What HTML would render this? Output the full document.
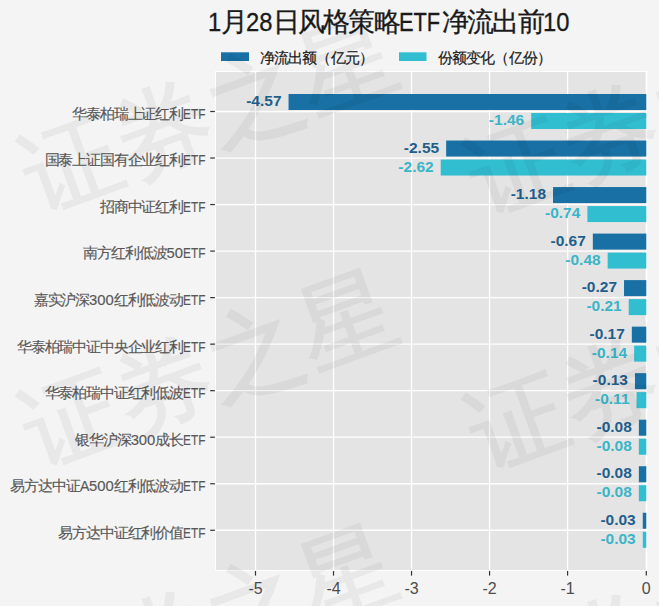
<!DOCTYPE html>
<html><head><meta charset="utf-8"><style>
html,body{margin:0;padding:0}
body{width:659px;height:606px;background:#f4f4f4;position:relative;overflow:hidden;font-family:"Liberation Sans",sans-serif}
div,svg{position:absolute;box-sizing:border-box}
svg{left:0;top:0}
.xl{width:60px;text-align:center;font-size:16px;color:#4d4d4d;line-height:20px}
.yl{left:0;width:205.4px;text-align:right;font-size:15px;-webkit-text-stroke:0.15px #585858;letter-spacing:-1.15px;color:#585858;line-height:20px;white-space:nowrap}
.lat{display:inline-block;letter-spacing:0;transform-origin:0 0;white-space:nowrap}
.dl{width:100px;text-align:right;font-size:15.5px;font-weight:bold;line-height:18px}
.title{left:208px;top:5px;font-size:27px;letter-spacing:-1.8px;color:#1a1a1a;-webkit-text-stroke:0.3px #1a1a1a;line-height:34px;white-space:nowrap}
.lt{top:49px;font-size:14.5px;letter-spacing:-0.9px;color:#1a1a1a;-webkit-text-stroke:0.2px #1a1a1a;line-height:18px;white-space:nowrap}
.wm{height:97px;font-size:97px;letter-spacing:0px;text-indent:0.0px;color:#000;-webkit-text-stroke:1.6px #000;opacity:0.045;transform:rotate(-20deg);white-space:nowrap;line-height:97px}
</style></head><body>
<svg width="659" height="606" viewBox="0 0 659 606"><rect x="215" y="71" width="432.29999999999995" height="500" fill="#fff"/><rect x="216" y="72" width="430.29999999999995" height="498" fill="#e4e4e4"/><line x1="255.50" y1="72" x2="255.50" y2="570" stroke="#fff" stroke-width="1.3"/><line x1="255.50" y1="571" x2="255.50" y2="575.6" stroke="#333" stroke-width="1.2"/><line x1="333.52" y1="72" x2="333.52" y2="570" stroke="#fff" stroke-width="1.3"/><line x1="333.52" y1="571" x2="333.52" y2="575.6" stroke="#333" stroke-width="1.2"/><line x1="411.54" y1="72" x2="411.54" y2="570" stroke="#fff" stroke-width="1.3"/><line x1="411.54" y1="571" x2="411.54" y2="575.6" stroke="#333" stroke-width="1.2"/><line x1="489.56" y1="72" x2="489.56" y2="570" stroke="#fff" stroke-width="1.3"/><line x1="489.56" y1="571" x2="489.56" y2="575.6" stroke="#333" stroke-width="1.2"/><line x1="567.58" y1="72" x2="567.58" y2="570" stroke="#fff" stroke-width="1.3"/><line x1="567.58" y1="571" x2="567.58" y2="575.6" stroke="#333" stroke-width="1.2"/><line x1="646.30" y1="72" x2="646.30" y2="570" stroke="#fff" stroke-width="1.3"/><line x1="646.30" y1="571" x2="646.30" y2="575.6" stroke="#333" stroke-width="1.2"/><line x1="216" y1="111.50" x2="646.3" y2="111.50" stroke="#fff" stroke-width="1.3"/><line x1="210.2" y1="111.50" x2="214.8" y2="111.50" stroke="#333" stroke-width="1.2"/><line x1="216" y1="158.03" x2="646.3" y2="158.03" stroke="#fff" stroke-width="1.3"/><line x1="210.2" y1="158.03" x2="214.8" y2="158.03" stroke="#333" stroke-width="1.2"/><line x1="216" y1="204.56" x2="646.3" y2="204.56" stroke="#fff" stroke-width="1.3"/><line x1="210.2" y1="204.56" x2="214.8" y2="204.56" stroke="#333" stroke-width="1.2"/><line x1="216" y1="251.09" x2="646.3" y2="251.09" stroke="#fff" stroke-width="1.3"/><line x1="210.2" y1="251.09" x2="214.8" y2="251.09" stroke="#333" stroke-width="1.2"/><line x1="216" y1="297.62" x2="646.3" y2="297.62" stroke="#fff" stroke-width="1.3"/><line x1="210.2" y1="297.62" x2="214.8" y2="297.62" stroke="#333" stroke-width="1.2"/><line x1="216" y1="344.15" x2="646.3" y2="344.15" stroke="#fff" stroke-width="1.3"/><line x1="210.2" y1="344.15" x2="214.8" y2="344.15" stroke="#333" stroke-width="1.2"/><line x1="216" y1="390.68" x2="646.3" y2="390.68" stroke="#fff" stroke-width="1.3"/><line x1="210.2" y1="390.68" x2="214.8" y2="390.68" stroke="#333" stroke-width="1.2"/><line x1="216" y1="437.21" x2="646.3" y2="437.21" stroke="#fff" stroke-width="1.3"/><line x1="210.2" y1="437.21" x2="214.8" y2="437.21" stroke="#333" stroke-width="1.2"/><line x1="216" y1="483.74" x2="646.3" y2="483.74" stroke="#fff" stroke-width="1.3"/><line x1="210.2" y1="483.74" x2="214.8" y2="483.74" stroke="#333" stroke-width="1.2"/><line x1="216" y1="530.27" x2="646.3" y2="530.27" stroke="#fff" stroke-width="1.3"/><line x1="210.2" y1="530.27" x2="214.8" y2="530.27" stroke="#333" stroke-width="1.2"/><rect x="288.55" y="94.00" width="357.75" height="16" fill="#1870a4"/><rect x="531.19" y="113.00" width="115.11" height="16" fill="#32bed1"/><rect x="446.15" y="140.53" width="200.15" height="16" fill="#1870a4"/><rect x="440.69" y="159.53" width="205.61" height="16" fill="#32bed1"/><rect x="553.04" y="187.06" width="93.26" height="16" fill="#1870a4"/><rect x="587.37" y="206.06" width="58.93" height="16" fill="#32bed1"/><rect x="592.83" y="233.59" width="53.47" height="16" fill="#1870a4"/><rect x="607.65" y="252.59" width="38.65" height="16" fill="#32bed1"/><rect x="624.03" y="280.12" width="22.27" height="16" fill="#1870a4"/><rect x="628.72" y="299.12" width="17.58" height="16" fill="#32bed1"/><rect x="631.84" y="326.65" width="14.46" height="16" fill="#1870a4"/><rect x="634.18" y="345.65" width="12.12" height="16" fill="#32bed1"/><rect x="634.96" y="373.18" width="11.34" height="16" fill="#1870a4"/><rect x="636.52" y="392.18" width="9.78" height="16" fill="#32bed1"/><rect x="638.86" y="419.71" width="7.44" height="16" fill="#1870a4"/><rect x="638.86" y="438.71" width="7.44" height="16" fill="#32bed1"/><rect x="638.86" y="466.24" width="7.44" height="16" fill="#1870a4"/><rect x="638.86" y="485.24" width="7.44" height="16" fill="#32bed1"/><rect x="642.76" y="512.77" width="3.54" height="16" fill="#1870a4"/><rect x="642.76" y="531.77" width="3.54" height="16" fill="#32bed1"/><rect x="221" y="52.3" width="28" height="8.7" fill="#1870a4"/><rect x="399" y="52.3" width="27.5" height="8.7" fill="#32bed1"/></svg>
<div class="xl" style="left:225.50px;top:579px">-5</div><div class="xl" style="left:303.52px;top:579px">-4</div><div class="xl" style="left:381.54px;top:579px">-3</div><div class="xl" style="left:459.56px;top:579px">-2</div><div class="xl" style="left:537.58px;top:579px">-1</div><div class="xl" style="left:616.30px;top:579px">0</div><div class="yl" style="top:103.90px">华泰柏瑞上证红利<span class="lat" style="font-size:14.8px;width:22.36px;transform:scaleX(0.8)">ETF</span></div><div class="yl" style="top:150.43px">国泰上证国有企业红利<span class="lat" style="font-size:14.8px;width:22.36px;transform:scaleX(0.8)">ETF</span></div><div class="yl" style="top:196.96px">招商中证红利<span class="lat" style="font-size:14.8px;width:22.36px;transform:scaleX(0.8)">ETF</span></div><div class="yl" style="top:243.49px">南方红利低波<span class="lat" style="font-size:14.8px;width:16.46px;transform:scaleX(1.0)">50</span><span class="lat" style="font-size:14.8px;width:22.36px;transform:scaleX(0.8)">ETF</span></div><div class="yl" style="top:290.02px">嘉实沪深<span class="lat" style="font-size:14.8px;width:24.69px;transform:scaleX(1.0)">300</span>红利低波动<span class="lat" style="font-size:14.8px;width:22.36px;transform:scaleX(0.8)">ETF</span></div><div class="yl" style="top:336.55px">华泰柏瑞中证中央企业红利<span class="lat" style="font-size:14.8px;width:22.36px;transform:scaleX(0.8)">ETF</span></div><div class="yl" style="top:383.08px">华泰柏瑞中证红利低波<span class="lat" style="font-size:14.8px;width:22.36px;transform:scaleX(0.8)">ETF</span></div><div class="yl" style="top:429.61px">银华沪深<span class="lat" style="font-size:14.8px;width:24.69px;transform:scaleX(1.0)">300</span>成长<span class="lat" style="font-size:14.8px;width:22.36px;transform:scaleX(0.8)">ETF</span></div><div class="yl" style="top:476.14px">易方达中证<span class="lat" style="font-size:14.8px;width:9.38px;transform:scaleX(0.95)">A</span><span class="lat" style="font-size:14.8px;width:24.69px;transform:scaleX(1.0)">500</span>红利低波动<span class="lat" style="font-size:14.8px;width:22.36px;transform:scaleX(0.8)">ETF</span></div><div class="yl" style="top:522.67px">易方达中证红利价值<span class="lat" style="font-size:14.8px;width:22.36px;transform:scaleX(0.8)">ETF</span></div><div class="dl" style="left:181.55px;top:92.00px;color:#1f5f8c">-4.57</div><div class="dl" style="left:424.19px;top:111.00px;color:#3ab5c8">-1.46</div><div class="dl" style="left:339.15px;top:138.53px;color:#1f5f8c">-2.55</div><div class="dl" style="left:333.69px;top:157.53px;color:#3ab5c8">-2.62</div><div class="dl" style="left:446.04px;top:185.06px;color:#1f5f8c">-1.18</div><div class="dl" style="left:480.37px;top:204.06px;color:#3ab5c8">-0.74</div><div class="dl" style="left:485.83px;top:231.59px;color:#1f5f8c">-0.67</div><div class="dl" style="left:500.65px;top:250.59px;color:#3ab5c8">-0.48</div><div class="dl" style="left:517.03px;top:278.12px;color:#1f5f8c">-0.27</div><div class="dl" style="left:521.72px;top:297.12px;color:#3ab5c8">-0.21</div><div class="dl" style="left:524.84px;top:324.65px;color:#1f5f8c">-0.17</div><div class="dl" style="left:527.18px;top:343.65px;color:#3ab5c8">-0.14</div><div class="dl" style="left:527.96px;top:371.18px;color:#1f5f8c">-0.13</div><div class="dl" style="left:529.52px;top:390.18px;color:#3ab5c8">-0.11</div><div class="dl" style="left:531.86px;top:417.71px;color:#1f5f8c">-0.08</div><div class="dl" style="left:531.86px;top:436.71px;color:#3ab5c8">-0.08</div><div class="dl" style="left:531.86px;top:464.24px;color:#1f5f8c">-0.08</div><div class="dl" style="left:531.86px;top:483.24px;color:#3ab5c8">-0.08</div><div class="dl" style="left:535.76px;top:510.77px;color:#1f5f8c">-0.03</div><div class="dl" style="left:535.76px;top:529.77px;color:#3ab5c8">-0.03</div>
<div class="title"><span class="lat" style="font-size:25px;width:13.21px;transform:scaleX(0.95)">1</span>月<span class="lat" style="font-size:25px;width:26.42px;transform:scaleX(0.95)">28</span>日风格策略<span class="lat" style="font-size:25px;width:43.08px;transform:scaleX(0.87)">ETF</span>净流出前<span class="lat" style="font-size:25px;width:26.42px;transform:scaleX(0.95)">10</span></div>
<div class="lt" style="left:260px">净流出额（亿元）</div>
<div class="lt" style="left:438px">份额变化（亿份）</div>
<div class="wm" style="left:15.0px;top:66.1px;width:388px">证券之星</div><div class="wm" style="left:15.0px;top:321.1px;width:388px">证券之星</div><div class="wm" style="left:15.0px;top:576.1px;width:388px">证券之星</div><div class="wm" style="left:461.0px;top:69.1px;width:388px">证券之星</div><div class="wm" style="left:461.0px;top:324.1px;width:388px">证券之星</div><div class="wm" style="left:461.0px;top:579.1px;width:388px">证券之星</div>
</body></html>
